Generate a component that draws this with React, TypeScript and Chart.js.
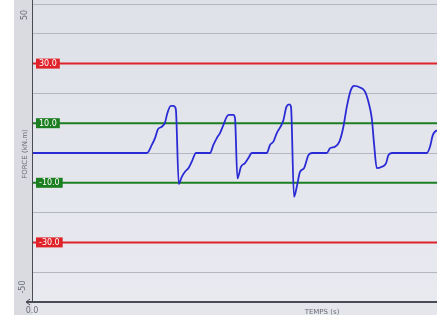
import React, { useEffect, useRef } from "react";
import { Chart, registerables } from "chart.js";

Chart.register(...registerables);

const timeValues = [
  0, 5.75, 5.99, 6.15, 6.3, 6.49, 6.65, 6.77, 6.94, 7.07, 7.19, 7.34, 7.49, 7.65, 7.82, 7.99, 8.2,
  8.9, 9.07, 9.24, 9.4, 9.57, 9.74, 9.85, 10.07, 10.15, 10.27, 10.45, 10.65, 10.82, 10.99,
  11.74, 11.9, 12.07, 12.24, 12.4, 12.57, 12.72, 12.87, 12.95, 13.1, 13.24, 13.4, 13.6, 13.82, 13.99,
  14.74, 14.9, 15.15, 15.37, 15.57, 15.74, 15.94, 16.1, 16.4, 16.65, 16.82, 16.99, 17.1, 17.24, 17.49, 17.7, 17.82, 17.99,
  19.74, 19.9, 20.04, 20.24,
];
const forceValues = [
  0, 0, 2.7, 5, 8, 8.8, 10.2, 13.4, 15.8, 15.8, 14.8, -10.4, -8, -6.3, -5.1, -2.9, 0,
  0, 2.7, 5, 6.7, 9.4, 12.2, 12.8, 12.8, 11.7, -8.5, -4.6, -3.4, -1.7, 0,
  0, 2.7, 3.8, 6.7, 8.5, 11, 15.5, 16.3, 15.5, -14.7, -11.3, -6.3, -5.1, -0.7, 0,
  0, 1.6, 2.1, 3.8, 8.8, 15.5, 21.1, 22.5, 22, 20.6, 17.2, 11.6, 3.3, -5.1, -4.6, -3.5, -0.7, 0,
  0, 2.1, 6, 7.7,
];
const thresholdValues = [30, 10, -10, -30];
const thresholdLabels = ["30.0", "10.0", "-10.0", "-30.0"];
const thresholdColors = ["#e0232a", "#1b7f22", "#1b7f22", "#e0232a"];
const yMin = -50;
const yMax = 50;
const xMin = 0;
const xMax = 20.25;
const yTickLabels = ["50", "-50"];
const xTickLabel = "0.0";
const yTitle = "FORCE (kN.m)";
const xTitle = "TEMPS (s)";

const decorPlugin = {
  id: "decor",
  beforeDraw(chart: any) {
    const { ctx, width, height, chartArea } = chart;
    ctx.save();
    ctx.fillStyle = "#ffffff";
    ctx.fillRect(0, 0, width, height);
    ctx.fillStyle = "#d9dbe1";
    ctx.fillRect(14, 0, width - 14, 315);
    const g = ctx.createLinearGradient(0, chartArea.top, 0, chartArea.bottom);
    g.addColorStop(0, "#dfe1e8");
    g.addColorStop(1, "#e8eaf0");
    ctx.fillStyle = g;
    ctx.fillRect(chartArea.left, 0, width - chartArea.left, chartArea.bottom);
    ctx.fillStyle = "#e4e6ec";
    ctx.fillRect(chartArea.left, chartArea.bottom, width - chartArea.left, 315 - chartArea.bottom);
    ctx.restore();
  },
  beforeDatasetsDraw(chart: any) {
    const { ctx, chartArea, scales } = chart;
    ctx.save();
    thresholdValues.forEach((v, i) => {
      const y = scales.y.getPixelForValue(v);
      ctx.strokeStyle = thresholdColors[i];
      ctx.lineWidth = 2;
      ctx.beginPath();
      ctx.moveTo(chartArea.left, y);
      ctx.lineTo(chartArea.right, y);
      ctx.stroke();
    });
    ctx.restore();
  },
  afterDatasetsDraw(chart: any) {
    const { ctx, chartArea, scales } = chart;
    ctx.save();
    ctx.font = "8px 'DejaVu Sans'";
    ctx.textBaseline = "middle";
    thresholdValues.forEach((v, i) => {
      const y = scales.y.getPixelForValue(v);
      const label = thresholdLabels[i];
      const w = ctx.measureText(label).width + 6;
      ctx.fillStyle = thresholdColors[i];
      ctx.fillRect(chartArea.left + 4, y - 5, w, 10);
      ctx.fillStyle = "#ffffff";
      ctx.textAlign = "left";
      ctx.fillText(label, chartArea.left + 7, y + 0.5);
    });
    // axes lines
    ctx.strokeStyle = "#4a4c55";
    ctx.lineWidth = 1;
    ctx.beginPath();
    ctx.moveTo(chartArea.left + 0.5, 0);
    ctx.lineTo(chartArea.left + 0.5, chartArea.bottom);
    ctx.stroke();
    ctx.lineWidth = 2;
    ctx.beginPath();
    ctx.moveTo(26, chartArea.bottom);
    ctx.lineTo(chartArea.right, chartArea.bottom);
    ctx.stroke();
    ctx.lineWidth = 1;
    ctx.beginPath();
    ctx.moveTo(30, chartArea.bottom - 3);
    ctx.lineTo(26, chartArea.bottom);
    ctx.lineTo(30, chartArea.bottom + 3);
    ctx.stroke();
    // labels
    ctx.fillStyle = "#6a6c74";
    ctx.font = "8px 'DejaVu Sans'";
    ctx.textAlign = "center";
    ctx.textBaseline = "middle";
    const rot = (text: string, x: number, y: number) => {
      ctx.save();
      ctx.translate(x, y);
      ctx.rotate(-Math.PI / 2);
      ctx.fillText(text, 0, 0);
      ctx.restore();
    };
    rot(yTickLabels[0], 25, 15);
    rot(yTickLabels[1], 23, 287);
    ctx.font = "7px 'DejaVu Sans'";
    rot(yTitle, 25, 154);
    ctx.font = "8px 'DejaVu Sans'";
    ctx.fillText(xTickLabel, chartArea.left, 311);
    ctx.font = "7px 'DejaVu Sans'";
    ctx.fillText(xTitle, 322, 312);
    ctx.restore();
  },
};

export default function App() {
  const ref = useRef<HTMLCanvasElement | null>(null);
  useEffect(() => {
    if (!ref.current) return;
    const chart = new Chart(ref.current, {
      type: "line",
      data: {
        datasets: [
          {
            data: timeValues.map((t, i) => ({ x: t, y: forceValues[i] })),
            borderColor: "#2b2bd6",
            borderWidth: 1.8,
            pointRadius: 0,
            cubicInterpolationMode: "monotone",
          },
        ],
      },
      options: {
        animation: false,
        responsive: false,
        maintainAspectRatio: false,
        layout: { padding: { left: 32, top: 4, right: 0, bottom: 16 } },
        plugins: { legend: { display: false }, tooltip: { enabled: false } },
        scales: {
          x: {
            type: "linear",
            min: xMin,
            max: xMax,
            ticks: { display: false },
            grid: { display: false, drawTicks: false },
            border: { display: false },
          },
          y: {
            min: yMin,
            max: yMax,
            ticks: { display: false, stepSize: 10 },
            grid: { color: "#b4b6c0", lineWidth: 1, drawTicks: false },
            border: { display: false },
          },
        },
      },
      plugins: [decorPlugin],
    });
    return () => chart.destroy();
  }, []);
  return (
    <div style={{ position: "absolute", left: 0, top: 0, width: 437, height: 318 }}>
      <canvas ref={ref} width={437} height={318} style={{ display: "block" }} />
    </div>
  );
}
